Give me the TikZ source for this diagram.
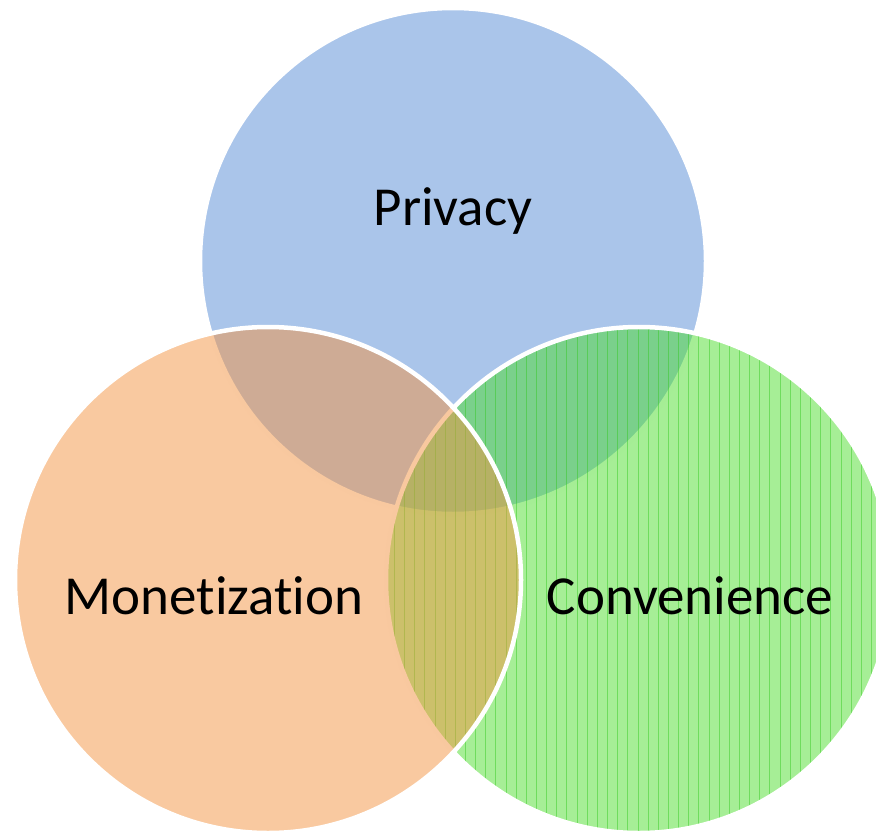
\documentclass[tikz,border=0pt]{standalone}
\usepackage{fontspec}
\setmainfont{Carlito}[Ligatures={NoCommon}]
\usetikzlibrary{positioning}
\usepackage{xcolor}

\definecolor{privblue}{RGB}{85,139,213}
\definecolor{monorange}{RGB}{243,147,65}
\definecolor{convgreen}{RGB}{77,221,45}
\definecolor{stripegreen}{RGB}{45,200,25}

\begin{document}
\begin{tikzpicture}[x=1pt, y=-1pt,
		setfill/.style={fill opacity=0.5},
		setrim/.style={draw=white, line width=4.5pt},
		setlabel/.style={font=\fontsize{55}{66}\selectfont, text=black, anchor=base}]
			% --- Define Coordinates ---
			% Page
			\coordinate (Corner) at (0,0);
			\coordinate (FarCorner) at (876,835);
			% Circle centres
			\coordinate (Cprivacy) at (453,261);
			\coordinate (Cmonetization) at (268,580);
			\coordinate (Cconvenience) at (639,580);
			
			\useasboundingbox (Corner) rectangle (FarCorner);
			\clip (Corner) rectangle (FarCorner);
			
			% --- Draw the Circles ---
			% Privacy (blue)
			\fill[privblue, setfill] (Cprivacy) circle[radius=253pt];
			\draw[setrim] (Cprivacy) circle[radius=253pt];
			
			% Convenience (green, striped)
			\fill[convgreen, setfill] (Cconvenience) circle[radius=253pt];
			\begin{scope}
				\clip (Cconvenience) circle[radius=253pt];
				\foreach \sx in {394.35,404.5,...,880}
					\draw[stripegreen, opacity=0.45, line width=0.9pt] (\sx,320) -- (\sx,840);
			\end{scope}
			\draw[setrim] (Cconvenience) circle[radius=253pt];
			
			% Monetization (orange)
			\fill[monorange, setfill] (Cmonetization) circle[radius=253pt];
			\draw[setrim] (Cmonetization) circle[radius=253pt];
			
			% --- Add Labels ---
			\node[setlabel] (privacy) at (453,225) {Privacy};
			\node[setlabel] (monetization) at (214,614) {Monetization};
			\node[setlabel] (convenience) at (690,614) {Convenience};
			
		\end{tikzpicture}
\end{document}
